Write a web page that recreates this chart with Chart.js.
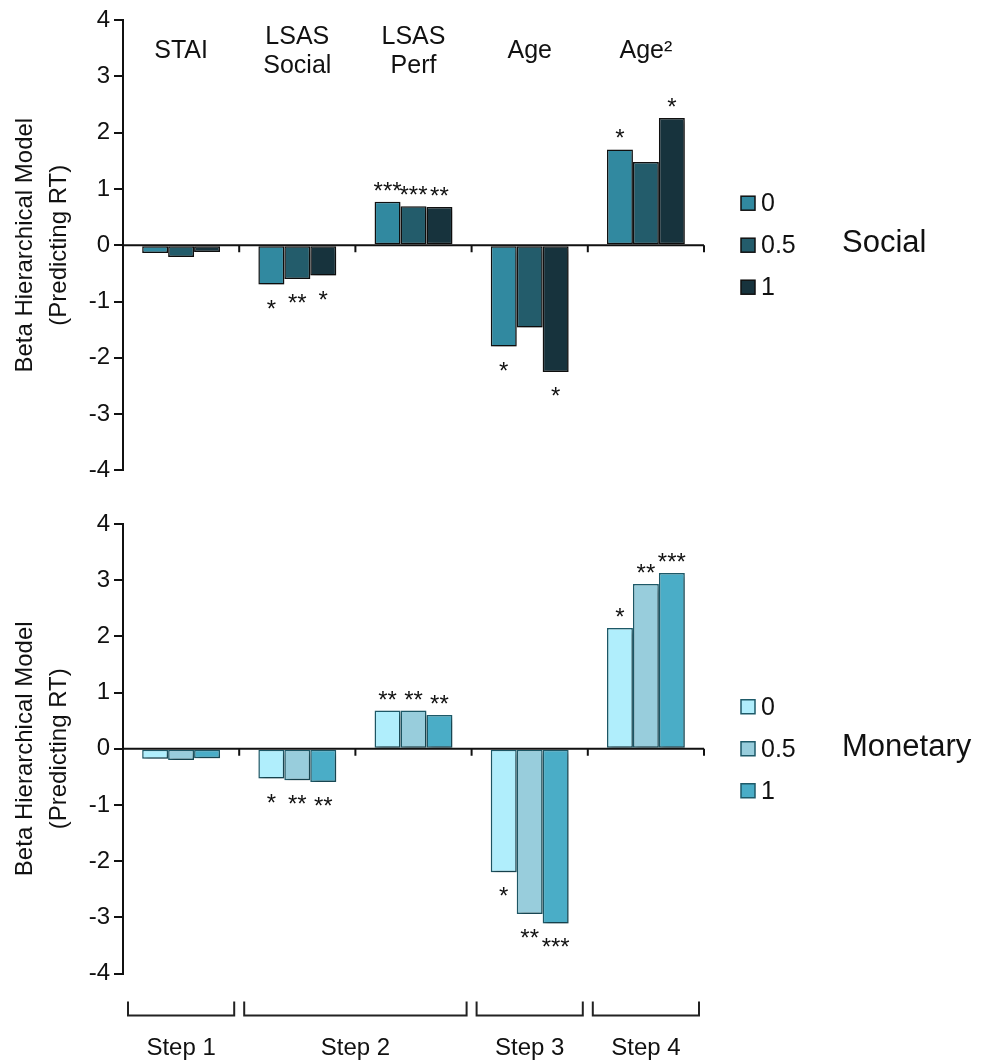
<!DOCTYPE html>
<html>
<head>
<meta charset="utf-8">
<script src="https://cdn.jsdelivr.net/npm/chart.js@4.4.1/dist/chart.umd.min.js"></script>
<style>
  body { margin: 0; background: #fff; }
  #wrap { position: relative; width: 987px; height: 1063px; }
  canvas { position: absolute; left: 0; }
  #socialChart { top: 0; }
  #monetaryChart { top: 500px; }
</style>
</head>
<body>
<div id="wrap">
  <canvas id="socialChart" width="987" height="500"></canvas>
  <canvas id="monetaryChart" width="987" height="563"></canvas>
</div>
<script>
// ---- data ----
const categories = ["STAI", ["LSAS", "Social"], ["LSAS", "Perf"], "Age", "Age²"];
const seriesLabels = ["0", "0.5", "1"];
const yTicks = [-4, -3, -2, -1, 0, 1, 2, 3, 4];

const social0 = [-0.14, -0.70, 0.77, -1.80, 1.70];
const social05 = [-0.21, -0.60, 0.69, -1.46, 1.48];
const social1 = [-0.12, -0.54, 0.68, -2.25, 2.26];

const monetary0 = [-0.18, -0.53, 0.68, -2.20, 2.15];
const monetary05 = [-0.20, -0.56, 0.68, -2.94, 2.93];
const monetary1 = [-0.17, -0.59, 0.60, -3.11, 3.13];

const socialSig0 = ["", "*", "***", "*", "*"];
const socialSig05 = ["", "**", "***", "", ""];
const socialSig1 = ["", "*", "**", "*", "*"];

const monetarySig0 = ["", "*", "**", "*", "*"];
const monetarySig05 = ["", "**", "**", "**", "**"];
const monetarySig1 = ["", "**", "**", "***", "***"];

const steps = ["Step 1", "Step 2", "Step 3", "Step 4"];
const stepFirst = [0, 1, 3, 4];
const stepLast = [0, 2, 3, 4];

const FONT = "'Liberation Sans', Arial, Helvetica, sans-serif";
const INK = "#111";

/* ------------------------------------------------------------ */

function panelPlugin(cfg) {
  return {
    id: "panel",
    beforeDatasetsDraw(chart) {
      const ctx = chart.ctx;
      ctx.save();
      ctx.shadowColor = "rgba(0, 0, 0, 0.35)";
      ctx.shadowBlur = 5;
      ctx.shadowOffsetX = 2;
      ctx.shadowOffsetY = 3;
    },
    afterDatasetsDraw(chart) {
      const ctx = chart.ctx;
      ctx.restore();

      const x = chart.scales.x;
      const y = chart.scales.y;
      const area = chart.chartArea;
      const step = x.width / categories.length;
      const y0 = y.getPixelForValue(0);

      ctx.save();
      // zero line with group ticks
      ctx.strokeStyle = INK;
      ctx.lineWidth = 2;
      ctx.beginPath();
      ctx.moveTo(area.left, y0);
      ctx.lineTo(area.right, y0);
      for (let i = 0; i < categories.length; i++) {
        const bx = x.getPixelForValue(i) + step / 2;
        ctx.moveTo(bx, y0);
        ctx.lineTo(bx, y0 + 7);
      }
      ctx.stroke();

      // significance stars
      ctx.fillStyle = INK;
      ctx.font = "24px " + FONT;
      ctx.textAlign = "center";
      ctx.textBaseline = "alphabetic";
      chart.data.datasets.forEach((ds, d) => {
        const meta = chart.getDatasetMeta(d);
        cfg.sigs[d].forEach((s, i) => {
          if (!s) return;
          const bar = meta.data[i];
          const ty = ds.data[i] >= 0 ? bar.y - 3 : bar.y + 32;
          ctx.fillText(s, bar.x, ty);
        });
      });

      // legend
      const cy = (area.top + area.bottom) / 2;
      ctx.textAlign = "left";
      ctx.textBaseline = "middle";
      ctx.font = "25px " + FONT;
      seriesLabels.forEach((lab, k) => {
        const ly = cy + (k - 1) * 42;
        ctx.fillStyle = cfg.colors[k];
        ctx.fillRect(741, ly - 7, 14, 14);
        ctx.strokeStyle = cfg.border;
        ctx.lineWidth = 1.5;
        ctx.strokeRect(741, ly - 7, 14, 14);
        ctx.fillStyle = INK;
        ctx.fillText(lab, 761, ly + 1);
      });

      // panel name
      ctx.textBaseline = "alphabetic";
      ctx.font = "31px " + FONT;
      ctx.fillText(cfg.name, 842, cy + 7);

      // category names at the top
      if (cfg.showCategories) {
        ctx.font = "25px " + FONT;
        ctx.textAlign = "center";
        categories.forEach((c, i) => {
          const lines = Array.isArray(c) ? c : [c];
          const cx = x.getPixelForValue(i);
          lines.forEach((line, j) => {
            ctx.fillText(line, cx, area.top + 38 + (j - (lines.length - 1) / 2) * 29);
          });
        });
      }

      // step brackets at the bottom
      if (cfg.showSteps) {
        ctx.strokeStyle = "#222";
        ctx.lineWidth = 2;
        ctx.font = "24px " + FONT;
        ctx.textAlign = "center";
        steps.forEach((s, k) => {
          const x1 = x.getPixelForValue(stepFirst[k]) - step / 2 + 5;
          const x2 = x.getPixelForValue(stepLast[k]) + step / 2 - 5;
          const top = area.bottom + 28;
          const bot = area.bottom + 42;
          ctx.beginPath();
          ctx.moveTo(x1, top);
          ctx.lineTo(x1, bot);
          ctx.lineTo(x2, bot);
          ctx.lineTo(x2, top);
          ctx.stroke();
          ctx.fillText(s, (x1 + x2) / 2, area.bottom + 81);
        });
      }
      ctx.restore();
    },
  };
}

function makePanel(canvasId, values, sigs, colors, border, name, padding, showCategories, showSteps) {
  const ctx = document.getElementById(canvasId).getContext("2d");
  return new Chart(ctx, {
    type: "bar",
    data: {
      labels: categories,
      datasets: values.map((v, k) => ({
        label: seriesLabels[k],
        data: v,
        backgroundColor: colors[k],
        borderColor: border,
        borderWidth: 1.5,
        borderSkipped: false,
        categoryPercentage: 0.67,
        barPercentage: 1.0,
      })),
    },
    options: {
      responsive: false,
      devicePixelRatio: 1,
      animation: false,
      layout: { padding: padding },
      plugins: {
        legend: { display: false },
        tooltip: { enabled: false },
      },
      scales: {
        x: { display: false, offset: true },
        y: {
          min: -4,
          max: 4,
          afterBuildTicks: (s) => {
            s.ticks = yTicks.map((v) => ({ value: v }));
          },
          afterFit: (s) => {
            s.width = 123;
          },
          border: { display: true, color: INK, width: 2 },
          grid: {
            drawOnChartArea: false,
            drawTicks: true,
            tickLength: 9,
            color: INK,
            lineWidth: 2,
          },
          ticks: {
            color: INK,
            padding: 4,
            font: { family: FONT, size: 24 },
          },
          title: {
            display: true,
            text: ["Beta Hierarchical Model", "(Predicting RT)"],
            color: INK,
            font: { family: FONT, size: 24, lineHeight: 1.4 },
            padding: { top: 9, bottom: 0 },
          },
        },
      },
    },
    plugins: [
      panelPlugin({ sigs: sigs, colors: colors, border: border, name: name, showCategories: showCategories, showSteps: showSteps }),
    ],
  });
}

/* ------------------------------------------------------------ */

const socialChart = makePanel(
  "socialChart",
  [social0, social05, social1],
  [socialSig0, socialSig05, socialSig1],
  ["#3189a0", "#235c6b", "#17333d"],
  "#111",
  "Social",
  { top: 20, right: 283, bottom: 29.6, left: 0 },
  true,
  false
);

const monetaryChart = makePanel(
  "monetaryChart",
  [monetary0, monetary05, monetary1],
  [monetarySig0, monetarySig05, monetarySig1],
  ["#b0eefc", "#98cddc", "#4aadc7"],
  "#1e5a69",
  "Monetary",
  { top: 24, right: 283, bottom: 89.5, left: 0 },
  false,
  true
);
</script>
</body>
</html>
